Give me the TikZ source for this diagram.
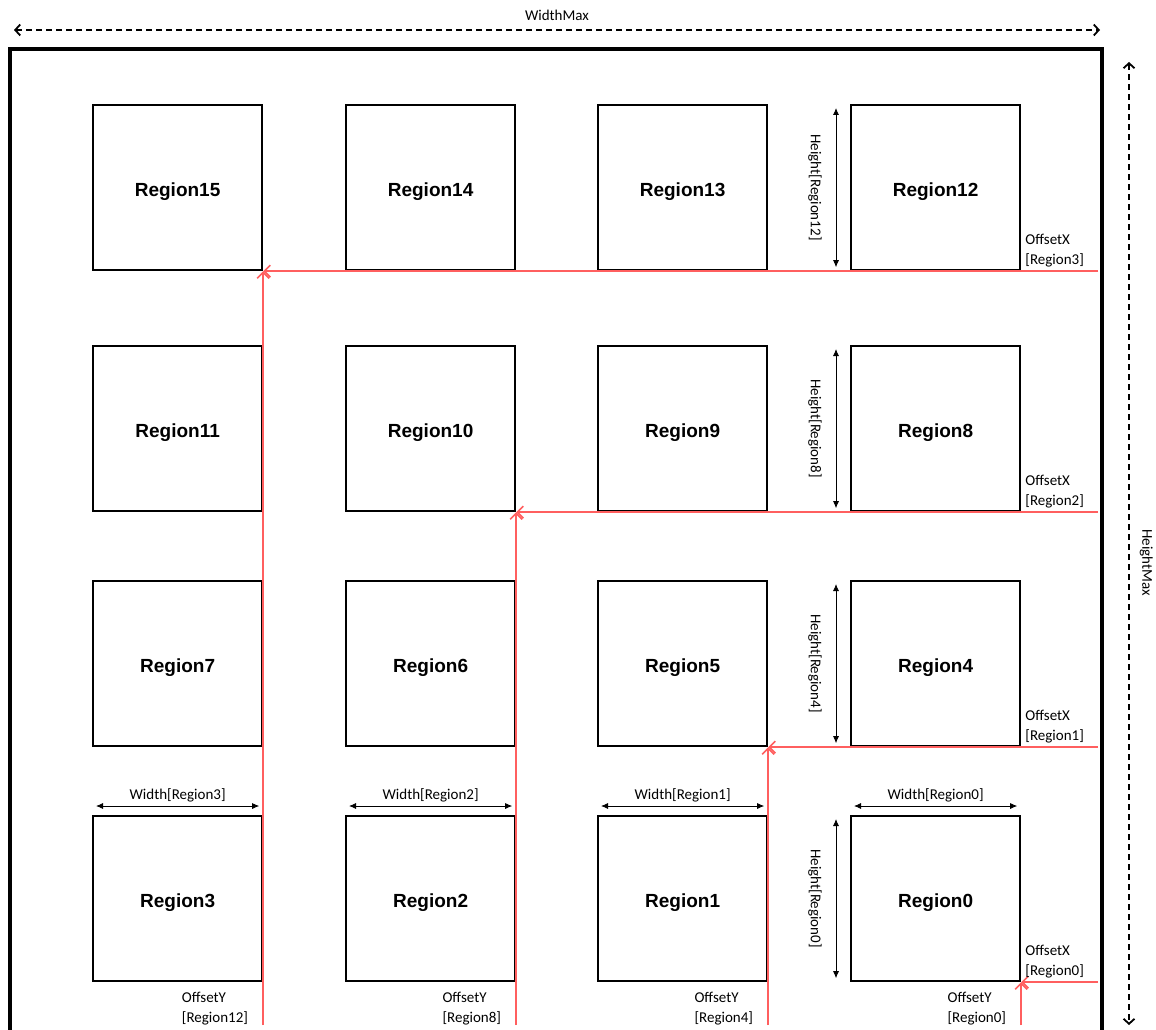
\documentclass[tikz,border=0pt]{standalone}
\usepackage{fontspec}
\setmainfont{Carlito}
\newfontfamily\regionfont{Liberation Sans}
\usetikzlibrary{arrows.meta,positioning}
\definecolor{offsetred}{RGB}{255,95,95}
\begin{document}
\begin{tikzpicture}[x=1pt,y=-1pt,
    region/.style={draw, line width=2.2pt, minimum width=169pt, minimum height=165pt,
      anchor=north west, inner sep=0pt, text height=18.6pt, text depth=0pt,
      font=\regionfont\bfseries\fontsize{19}{22}\selectfont},
    lbl/.style={font=\fontsize{15}{20}\selectfont, align=left, inner sep=1pt},
    dim/.style={{Latex[length=7pt,width=6pt]}-{Latex[length=7pt,width=6pt]}, line width=0.8pt},
    maxdim/.style={{Straight Barb[length=5pt,width=11pt]}-{Straight Barb[length=5pt,width=11pt]},
      line width=1.8pt, dash pattern=on 6pt off 4pt},
    offset/.style={-{Straight Barb[length=6pt,width=12pt]}, draw=offsetred, line width=1.6pt}]
    \useasboundingbox (0,0) rectangle (1156,1030);
    % outer frame and max sizes
    \draw[line width=3.2pt] (10,1040) -- (10,49) -- (1102,49) -- (1102,1040);
    \draw[maxdim] (14,30) -- (1100,30) node[midway, above=7pt, lbl] {WidthMax};
    \draw[maxdim] (1129,62) -- (1129,1025) node[pos=0.52, rotate=-90, anchor=south, lbl, inner sep=10pt] {HeightMax};
    % regions
    \foreach \col/\x in {0/92,1/345,2/597,3/850}
      \foreach \row/\y in {0/815,1/580,2/345,3/104} {
        \pgfmathtruncatemacro\idx{4*\row+3-\col}
        \node[region] (r\idx) at (\x,\y) {Region\idx};
      }
    % offsets and sizes
    \foreach \k in {0,...,3} {
      \pgfmathtruncatemacro\diag{5*\k}
      \pgfmathtruncatemacro\rr{4*\k}
      \coordinate (ox\k) at (1098,0 |- r\diag.south east);
      \coordinate (oy\k) at (r\diag.south east |- 0,1025);
      \draw[offset] (ox\k) -- (r\diag.south east);
      \draw[offset] (oy\k) -- (r\diag.south east);
      \node[lbl, anchor=south west] (offx\k) at ([xshift=3pt,yshift=3pt]r\rr.south east) {OffsetX\\{[Region\k]}};
      \node[lbl, anchor=north east] (offy\k) at ([xshift=-14pt,yshift=-9pt]r\k.south east) {OffsetY\\{[Region\rr]}};
      \draw[dim] ([xshift=-14pt,yshift=-4pt]r\rr.north west) -- ([xshift=-14pt,yshift=4pt]r\rr.south west)
        node[midway, rotate=-90, anchor=north, lbl, inner sep=14pt] {Height[Region\rr]};
      \draw[dim] ([xshift=4pt,yshift=9pt]r\k.north west) -- ([xshift=-4pt,yshift=9pt]r\k.north east)
        node[midway, above=3pt, lbl] {Width[Region\k]};
    }
\end{tikzpicture}
\end{document}
